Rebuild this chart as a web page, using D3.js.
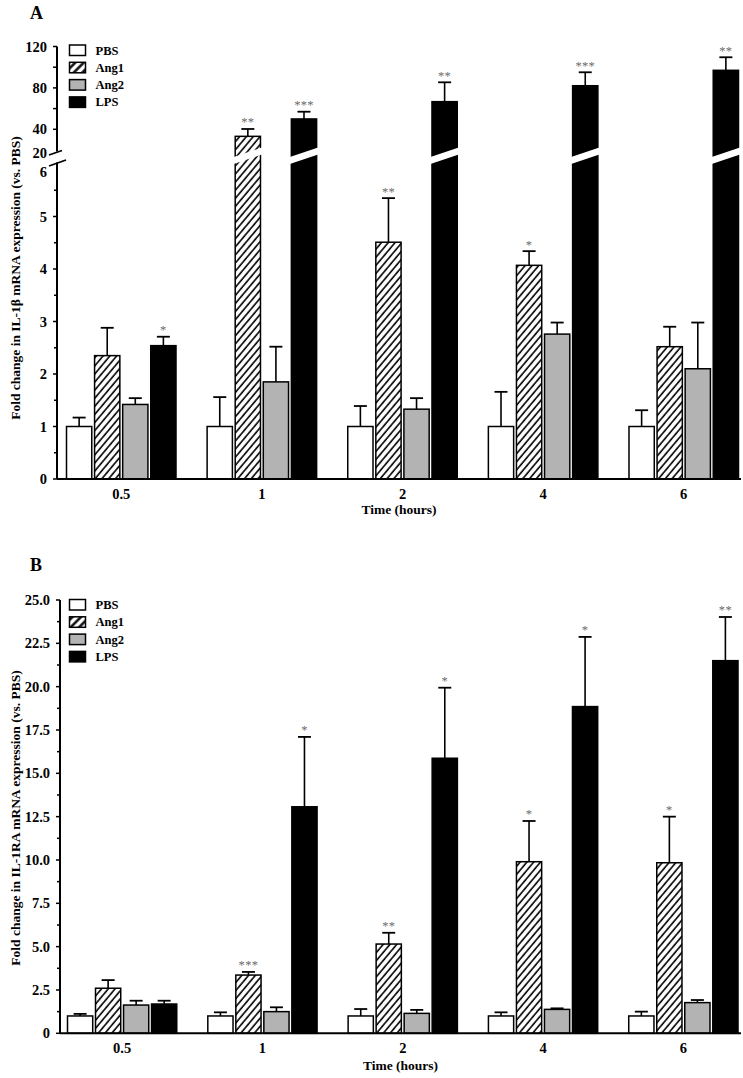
<!DOCTYPE html>
<html><head><meta charset="utf-8">
<script src="https://cdn.jsdelivr.net/npm/d3@7"></script>
<style>
html,body{margin:0;padding:0;background:#fff;}
svg{display:block;}
text{font-family:"Liberation Serif","Times New Roman",serif;font-weight:bold;fill:#000;}
</style></head>
<body>
<script>
// ---------- DATA ----------
const times = ["0.5", "1", "2", "4", "6"];
const series = ["PBS", "Ang1", "Ang2", "LPS"];

// Panel A: IL-1beta
const pbsA = [1, 1, 1, 1, 1];
const pbsAErr = [0.17, 0.56, 0.39, 0.66, 0.31];
const ang1A = [2.35, 33.2, 4.51, 4.07, 2.52];
const ang1AErr = [0.53, 7.1, 0.84, 0.27, 0.38];
const ang2A = [1.42, 1.85, 1.33, 2.76, 2.10];
const ang2AErr = [0.12, 0.67, 0.21, 0.22, 0.88];
const lpsA = [2.54, 50, 66.7, 82.1, 97];
const lpsAErr = [0.17, 7.0, 18.7, 13.0, 12.6];
const ang1AStars = ["", "**", "**", "*", ""];
const lpsAStars = ["*", "***", "**", "***", "**"];
const yTicksALow = [0, 1, 2, 3, 4, 5, 6];
const yTicksAHigh = [20, 40, 80, 120];

// Panel B: IL-1RA
const pbsB = [1, 1, 1, 1, 1];
const pbsBErr = [0.12, 0.21, 0.40, 0.21, 0.25];
const ang1B = [2.6, 3.36, 5.15, 9.9, 9.84];
const ang1BErr = [0.47, 0.18, 0.65, 2.35, 2.66];
const ang2B = [1.63, 1.25, 1.15, 1.38, 1.77];
const ang2BErr = [0.25, 0.25, 0.2, 0.06, 0.15];
const lpsB = [1.69, 13.07, 15.87, 18.85, 21.5];
const lpsBErr = [0.19, 4.03, 4.07, 4.02, 2.52];
const ang1BStars = ["", "***", "**", "*", "*"];
const lpsBStars = ["", "*", "*", "*", "**"];
const yTicksB = [0, 2.5, 5, 7.5, 10, 12.5, 15, 17.5, 20, 22.5, 25];

const W = 743, H = 1078;
const svg = d3.select("body").append("svg").attr("width", W).attr("height", H);

const defs = svg.append("defs");
const pat = defs.append("pattern").attr("id", "hatch").attr("patternUnits", "userSpaceOnUse")
  .attr("width", 5.2).attr("height", 5.2).attr("patternTransform", "rotate(40)");
pat.append("rect").attr("width", 5.2).attr("height", 5.2).attr("fill", "#fff");
pat.append("line").attr("x1", 1).attr("y1", 0).attr("x2", 1).attr("y2", 5.2)
  .attr("stroke", "#000").attr("stroke-width", 1.6);
const patL = defs.append("pattern").attr("id", "hatchL").attr("patternUnits", "userSpaceOnUse")
  .attr("width", 6).attr("height", 6).attr("patternTransform", "rotate(45)");
patL.append("rect").attr("width", 6).attr("height", 6).attr("fill", "#fff");
patL.append("line").attr("x1", 1.5).attr("y1", 0).attr("x2", 1.5).attr("y2", 6)
  .attr("stroke", "#000").attr("stroke-width", 2.4);

const fills = {PBS: "#ffffff", Ang1: "url(#hatch)", Ang2: "#b3b3b3", LPS: "#000000"};
const legFills = {PBS: "#ffffff", Ang1: "url(#hatchL)", Ang2: "#b3b3b3", LPS: "#000000"};

function buildRows(vals, errs, stars) {
  const rows = [];
  times.forEach((t, i) => {
    series.forEach((s, j) => {
      rows.push({t, s, v: vals[j][i], e: errs[j][i], star: stars[j] ? stars[j][i] : ""});
    });
  });
  return rows;
}

function drawLegend(g, x, y0, step) {
  series.forEach((s, i) => {
    g.append("rect").attr("x", x).attr("y", y0 + i * step).attr("width", 16).attr("height", 10.5)
      .attr("fill", legFills[s]).attr("stroke", "#000").attr("stroke-width", 1.5);
    g.append("text").attr("x", x + 26).attr("y", y0 + i * step + 9.5)
      .attr("font-size", 12.5).text(s);
  });
}

function drawPanel(opts) {
  const g = svg.append("g");
  const x = d3.scaleBand().domain(times).range(opts.xRange).paddingInner(0.2213).paddingOuter(0);
  const xi = d3.scaleBand().domain(series).range([0, x.bandwidth()]).paddingInner(0.1);
  const yf = opts.y;
  const rows = buildRows(opts.vals, opts.errs, opts.stars);

  rows.forEach(r => {
    const bx = x(r.t) + xi(r.s);
    const top = yf(r.v);
    const base = opts.y0;
    g.append("rect").attr("x", bx).attr("y", top).attr("width", xi.bandwidth()).attr("height", base - top)
      .attr("fill", fills[r.s]).attr("stroke", "#000").attr("stroke-width", 1.5);
    const et = yf(r.v + r.e);
    const cx = bx + xi.bandwidth() / 2;
    g.append("line").attr("x1", cx).attr("x2", cx).attr("y1", top).attr("y2", et)
      .attr("stroke", "#000").attr("stroke-width", 1.6);
    g.append("line").attr("x1", cx - 6.5).attr("x2", cx + 6.5).attr("y1", et).attr("y2", et)
      .attr("stroke", "#000").attr("stroke-width", 1.8);
    if (r.star) {
      g.append("text").attr("x", cx).attr("y", et - 2.5).attr("text-anchor", "middle")
        .attr("font-size", 12.5).style("fill", "#6a6a6a").style("font-weight", "normal")
        .attr("letter-spacing", 0.3).text(r.star);
    }
    if (opts.breakBar && r.v > opts.breakAt) {
      const x0 = bx - 1.5, x1 = bx + xi.bandwidth() + 1.5;
      const bb = opts.breakBar;
      g.append("polygon").attr("points",
        [[x0, bb.yl + bb.th / 2], [x1, bb.yr + bb.th / 2], [x1, bb.yr - bb.th / 2], [x0, bb.yl - bb.th / 2]]
          .map(p => p.join(",")).join(" "))
        .attr("fill", "#fff");
    }
  });

  g.append("line").attr("x1", opts.axisX).attr("x2", opts.xEnd).attr("y1", opts.y0).attr("y2", opts.y0)
    .attr("stroke", "#000").attr("stroke-width", 2);
  times.forEach(t => {
    g.append("text").attr("x", x(t) + x.bandwidth() / 2).attr("y", opts.xLabY)
      .attr("text-anchor", "middle").attr("font-size", 14.5).text(t);
  });
  g.append("text").attr("x", (opts.axisX + opts.xEnd) / 2).attr("y", opts.xTitleY)
    .attr("text-anchor", "middle").attr("font-size", 13.5).text("Time (hours)");

  g.append("text").attr("transform", `translate(${opts.yTitleX},${opts.yTitleY}) rotate(-90)`)
    .attr("text-anchor", "middle").attr("font-size", opts.yTitleSize).text(opts.yTitle);
  g.append("text").attr("x", opts.letterX).attr("y", opts.letterY).attr("font-size", 18).text(opts.letter);
  return g;
}

// ---------- Panel A ----------
const yLowA = d3.scaleLinear().domain([0, 6]).range([479, 164]);
const yHighA = d3.scaleLinear().domain([20, 120]).range([150, 46.5]);
const yA = v => (v <= 6 ? yLowA(v) : yHighA(v));
const axA = 57;
const gA = drawPanel({
  xRange: [66.5, 738.5], y: yA, y0: 479, axisX: axA, xEnd: 741,
  vals: [pbsA, ang1A, ang2A, lpsA], errs: [pbsAErr, ang1AErr, ang2AErr, lpsAErr],
  stars: [null, ang1AStars, null, lpsAStars],
  breakAt: 6, breakBar: {yl: 160.5, yr: 151, th: 7},
  xLabY: 499, xTitleY: 514, yTitleX: 20, yTitleY: 278, yTitleSize: 13.5,
  yTitle: "Fold change in IL-1β mRNA expression (vs. PBS)", letter: "A", letterX: 30, letterY: 18.5
});
gA.append("line").attr("x1", axA).attr("x2", axA).attr("y1", yHighA(120)).attr("y2", yHighA(20) + 1.5)
  .attr("stroke", "#000").attr("stroke-width", 2);
gA.append("line").attr("x1", axA).attr("x2", axA).attr("y1", yLowA(6) - 1.5).attr("y2", yLowA(0))
  .attr("stroke", "#000").attr("stroke-width", 2);
gA.append("line").attr("x1", axA - 8).attr("y1", yHighA(20) + 5).attr("x2", axA + 5).attr("y2", yHighA(20) + 0.5)
  .attr("stroke", "#000").attr("stroke-width", 1.8);
gA.append("line").attr("x1", axA - 8).attr("y1", yLowA(6) + 2).attr("x2", axA + 9).attr("y2", yLowA(6) - 4)
  .attr("stroke", "#000").attr("stroke-width", 1.8);
d3.range(0, 6.01, 0.5).forEach(v => {
  const major = Math.abs(v - Math.round(v)) < 1e-6;
  if (v === 6) return;
  gA.append("line").attr("x1", axA - (major ? 4 : 3)).attr("x2", axA).attr("y1", yLowA(v)).attr("y2", yLowA(v))
    .attr("stroke", "#000").attr("stroke-width", 1.5);
});
[40, 60, 80, 100, 120].forEach(v => {
  gA.append("line").attr("x1", axA - 4).attr("x2", axA).attr("y1", yHighA(v)).attr("y2", yHighA(v))
    .attr("stroke", "#000").attr("stroke-width", 1.5);
});
yTicksALow.forEach(v => {
  gA.append("text").attr("x", axA - 10).attr("y", yLowA(v) + (v === 6 ? 8 : 0)).attr("dy", "0.35em")
    .attr("text-anchor", "end").attr("font-size", 14.5).text(v);
});
yTicksAHigh.forEach(v => {
  gA.append("text").attr("x", axA - 10).attr("y", yHighA(v) + (v === 20 ? 3 : 0)).attr("dy", "0.35em")
    .attr("text-anchor", "end").attr("font-size", 14.5).text(v);
});
drawLegend(gA, 69.5, 45, 17.3);

// ---------- Panel B ----------
const yB = d3.scaleLinear().domain([0, 25]).range([1033.3, 600]);
const axB = 60;
const gB = drawPanel({
  xRange: [67.5, 738], y: yB, y0: 1033.3, axisX: axB, xEnd: 741,
  vals: [pbsB, ang1B, ang2B, lpsB], errs: [pbsBErr, ang1BErr, ang2BErr, lpsBErr],
  stars: [null, ang1BStars, null, lpsBStars],
  xLabY: 1053, xTitleY: 1070, yTitleX: 20, yTitleY: 818, yTitleSize: 13.5,
  yTitle: "Fold change in IL-1RA mRNA expression (vs. PBS)", letter: "B", letterX: 30, letterY: 571
});
gB.append("line").attr("x1", axB).attr("x2", axB).attr("y1", yB(25)).attr("y2", yB(0))
  .attr("stroke", "#000").attr("stroke-width", 2);
d3.range(0, 25.01, 1.25).forEach((v, i) => {
  gB.append("line").attr("x1", axB - (i % 2 === 0 ? 4 : 3)).attr("x2", axB).attr("y1", yB(v)).attr("y2", yB(v))
    .attr("stroke", "#000").attr("stroke-width", 1.5);
});
yTicksB.forEach(v => {
  gB.append("text").attr("x", axB - 10).attr("y", yB(v)).attr("dy", "0.35em")
    .attr("text-anchor", "end").attr("font-size", 14.5).text(v === 0 ? "0" : d3.format(".1f")(v));
});
drawLegend(gB, 69.5, 599.5, 17.3);
</script>
</body></html>
